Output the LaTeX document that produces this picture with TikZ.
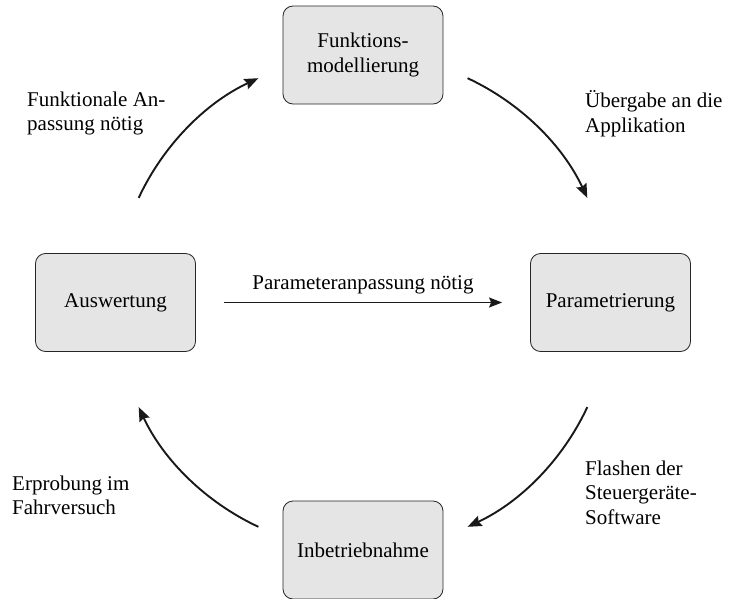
\documentclass[tikz,border=0pt]{standalone}
\usepackage{fontspec}
\setmainfont{Liberation Serif}
\usetikzlibrary{arrows.meta}
\begin{document}
\begin{tikzpicture}[x=1pt,y=1pt,
  txt/.style={font=\fontsize{21}{24.5}\selectfont},
  box/.style={txt, draw=black!85, line width=0.8pt, fill=black!10, rounded corners=10pt,
    minimum width=160pt, minimum height=98pt, align=center, inner sep=0pt},
  lbl/.style={txt, align=left, inner sep=0pt, anchor=west},
  arr/.style={line width=1.9pt, draw=black!90, -{Stealth[length=14pt,width=11pt,inset=2pt]}},
  marr/.style={line width=1.5pt, draw=black!90, -{Stealth[length=13pt,width=10pt,inset=2pt]}}]
\useasboundingbox (-363,-295.5) rectangle (366,302.5);
% nodes
\node[box] (mod) at (0,247.5) {Funktions-\\modellierung};
\node[box] (par) at (247.5,0) {Parametrierung};
\node[box] (inb) at (0,-247.5) {Inbetriebnahme};
\node[box] (aus) at (-247.5,0) {Auswertung};
% arc end points
\coordinate (a1) at (155:247.5);
\coordinate (a2) at (65:247.5);
\coordinate (a3) at (-25:247.5);
\coordinate (a4) at (-115:247.5);
\draw[arr] (a1) arc[start angle=155, end angle=115, radius=247.5];
\draw[arr] (a2) arc[start angle=65, end angle=25, radius=247.5];
\draw[arr] (a3) arc[start angle=-25, end angle=-65, radius=247.5];
\draw[arr] (a4) arc[start angle=-115, end angle=-155, radius=247.5];
% middle arrow
\draw[marr] ([xshift=28pt]aus.east) -- node[txt, above=4pt] {Parameteranpassung nötig} ([xshift=-28pt]par.west);
% labels
\node[lbl] (l1) at (-336,189) {Funktionale An-\\passung nötig};
\node[lbl] (l2) at (222,189) {Übergabe an die\\Applikation};
\node[lbl] (l3) at (222,-190) {Flashen der\\Steuergeräte-\\Software};
\node[lbl] (l4) at (-351,-193) {Erprobung im\\Fahrversuch};
\end{tikzpicture}
\end{document}
